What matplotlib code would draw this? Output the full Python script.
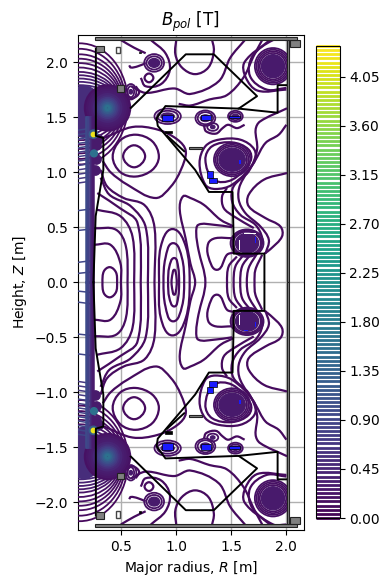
import matplotlib
matplotlib.use("Agg")
from matplotlib import pyplot as plt
from matplotlib.path import Path
from matplotlib.patches import PathPatch, Ellipse, Rectangle
import numpy as np

# contour traces, upper half only (R, Z); the plot is mirrored in Z=0
left_oval = [(.327,0),(.34,.10),(.395,.137),(.45,.09),(.46,0)]
arc_a = [(.25,.34),(.40,.34),(.49,.174),(.495,0)]
arc_b = [(.25,.49),(.45,.477),(.54,.325),(.555,0)]
arc_c = [(.27,.66),(.49,.60),(.60,.415),(.615,0)]
arc_d = [(.28,.81),(.49,.67),(.645,.54),(.675,0)]
arc_e = [(.31,.95),(.39,.795),(.585,.69),(.72,.50),(.74,0)]
arc_f = [(.31,1.02),(.37,.87),(.52,.765),(.71,.70),(.80,.50),(.80,0)]
oval_1 = [(.955,0),(.965,.08),(.98,.113),(.995,.08),(1.003,0)]
oval_2 = [(.924,0),(.935,.14),(.98,.22),(1.015,.14),(1.024,0)]
oval_3 = [(.882,0),(.90,.22),(.97,.355),(1.05,.22),(1.07,0)]
oval_4 = [(.842,0),(.858,.325),(.964,.483),(1.085,.325),(1.12,0)]
oval_5 = [(1.17,0),(1.127,.17),(1.085,.39),(1.03,.66),(1.06,.78),(1.127,.765),(1.248,.704),(1.40,.568),(1.52,.507)]
fold = [(1.506,.50),(1.34,.522),(1.20,.522),(1.18,.447),(1.20,.295),(1.263,0)]
vee = [(1.506,.40),(1.354,.40),(1.29,.355),(1.29,.234),(1.37,.113),(1.46,.25),(1.52,.27)]
inner_ring = [(.615,1.244),(.715,1.144),(.615,1.044),(.515,1.144),(.615,1.244)]
outer_ring = [(.42,1.14),(.49,1.29),(.63,1.34),(.78,1.28),(.84,1.14),(.78,1.02),(.63,.96),(.49,1.00),(.42,1.14)]
belly = [(.33,1.10),(.40,1.0),(.555,.885),(.81,.765),(.95,.87),(1.04,1.02),(1.085,1.19),(1.01,1.295),(.83,1.386),(.60,1.41),(.34,1.31)]
long_a = [(.59,1.78),(.72,1.72),(.98,1.76),(1.127,1.71),(1.385,1.826),(1.49,2.04),(1.627,2.205)]
long_b = [(1.02,1.62),(1.127,1.605),(1.30,1.66),(1.46,1.70),(1.61,1.86),(1.70,2.05),(1.78,2.20)]
top_cup = [(1.00,2.22),(.99,2.07),(1.05,1.95),(1.17,1.89),(1.29,1.95),(1.34,2.10),(1.32,2.22)]
coil_wrap = [(.767,2.20),(.90,2.08),(.94,1.93),(.86,1.80),(.72,1.78),(.676,1.856)]
coil_wrap_b = [(.494,2.20),(.615,2.13),(.72,2.08)]
coil_wrap_c = [(.57,1.97),(.585,1.95),(.645,1.96),(.72,1.99)]
small_loop = [(.75,1.896),(.79,1.856),(.75,1.816),(.71,1.856),(.75,1.896)]
tail_a = [(.63,1.78),(.66,1.72),(.60,1.67),(.555,1.69)]
tr_wrap_a = [(2.0,2.20),(1.88,2.20),(1.69,2.05),(1.67,1.87),(1.82,1.75),(2.0,1.765)]
tr_wrap_b = [(1.85,2.20),(1.62,2.0),(1.63,1.86),(1.74,1.74),(2.0,1.75)]
ring_low_a = [(1.25,1.42),(1.27,1.37),(1.36,1.35),(1.42,1.40),(1.47,1.43),(1.55,1.40),(1.62,1.43)]
s_a = [(2.0,1.43),(1.93,1.34),(1.81,1.265),(1.72,1.113),(1.58,.886),(1.566,.75),(1.627,.628),(1.763,.507),(1.84,.386),(1.81,.26)]
s_b = [(2.006,1.58),(1.76,1.46),(1.72,1.386),(1.733,1.204),(1.657,1.007),(1.52,.871),(1.506,.735),(1.58,.613),(1.718,.522),(1.78,.40),(1.763,.295)]
s_c = [(1.46,.856),(1.415,.78),(1.43,.674),(1.52,.60),(1.703,.492)]
right_s = [(2.006,.992),(1.794,.931),(1.657,.795),(1.657,.69),(1.809,.583),(1.945,.507),(1.96,.416),(1.854,.30),(1.80,.26)]
fan_a = [(1.46,0),(1.475,.144),(1.55,.234)]
fan_b = [(1.52,0),(1.536,.144),(1.61,.25)]
fan_c = [(1.58,0),(1.597,.144),(1.672,.25)]
fan_d = [(1.64,0),(1.657,.13),(1.733,.26)]
fan_e = [(1.71,0),(1.718,.113),(1.78,.25)]
cage_a = [(1.385,1.295),(1.263,1.235),(1.21,1.083),(1.263,.886),(1.354,.847),(1.506,.886),(1.703,1.083),(1.709,1.204),(1.58,1.295),(1.385,1.295)]
cage_b = [(1.263,1.113),(1.324,1.235),(1.506,1.27),(1.657,1.204),(1.672,1.098),(1.506,.931),(1.339,.931),(1.263,1.113)]

upper_traces = [left_oval, arc_a, arc_b, arc_c, arc_d, arc_e, arc_f, oval_1, oval_2, oval_3, oval_4,
                oval_5, fold, vee, inner_ring, outer_ring, belly, long_a, long_b, top_cup, coil_wrap,
                coil_wrap_b, coil_wrap_c, small_loop, tail_a, tr_wrap_a, tr_wrap_b, ring_low_a, s_a, s_b, s_c,
                right_s, fan_a, fan_b, fan_c, fan_d, fan_e, cage_a, cage_b]

# coils: centre R, centre Z, ring radii in R, ring radii in Z, solid core radii in R and Z
coil_tl = (.797, 1.992, [.09,.07], [.08,.06], .05, .04)
coil_tr = (1.878, 1.962, [.165,.15,.135,.12], [.165,.15,.135,.12], .105, .105)
coil_mid = (1.506, 1.113, [.165,.15,.135], [.15,.135,.12], .12, .105)
coil_low = (1.642, .355, [.15,.135,.125], [.125,.115,.105], .105, .09)
coil_p1 = (.92, 1.507, [.12,.095], [.07,.05], .06, .03)
coil_p2 = (1.263, 1.49, [.09,.07], [.07,.055], .045, .03)
coil_p3 = (1.536, 1.507, [.067,.05], [.05,.035], .03, .02)
coil_p4 = (1.33, 1.41, [.05], [.035], .02, .015)
coil_p5 = (.585, 1.73, [.05,.03], [.07,.05], .015, .02)
coils = [coil_tl, coil_tr, coil_mid, coil_low, coil_p1, coil_p2, coil_p3, coil_p4, coil_p5]

# the strong field at the top of the centre column
blob_r = .373
blob_z = 1.583
blob_radii = [.20,.18,.16,.14,.12,.10,.085,.07,.055,.04,.025,.012]
blob_values = [.2,.25,.3,.35,.45,.55,.7,.85,1.0,1.2,1.4,1.6]
fan_r = .12
fan_z = 1.62
fan_a_r = [.44,.42,.405,.39,.38,.37,.36,.35,.34,.33,.32]
fan_b_z = [.55,.50,.45,.41,.37,.33,.29,.26,.23,.20,.17]
fan_values = [.1,.12,.14,.16,.18,.2,.25,.3,.35,.4,.45]
fill_r = .16
fill_z = 1.55
fill_a = .17
fill_b = .24
hot_r = [.245,.25]
hot_z = [1.345,1.17]
lump_r = [.27,.27,.26,.29]
lump_z = [1.25,1.12,1.02,1.30]
stripe_r = [.18,.19,.20,.21,.22,.23,.24]
stripe_v = [1.0,.95,.85,.7,.55,.4,.3]
stripe_top = 1.5
hair_z = [.08,.18,.47,.65,.90,.94,.98,1.02,1.06,1.10,1.14,1.18,1.22,1.26,1.30,1.34,1.38]
hair_l = [.14,.12,.14,.12,.10,.10,.10,.10,.10,.10,.10,.10,.10,.10,.10,.10,.10]
hair_v = [.9,.9,.9,.9,.7,.7,.7,.7,.8,.8,.8,.8,.9,.9,.9,.9,.9]

# machine outline, upper half
wall_r = [.267,.267,.335,.335,.265,.245]
wall_z = [2.12,1.33,1.31,1.02,.60,0]
limiter_r = [.585,1.085,1.34,1.733,1.566,.90,.82,.83,1.17,1.295,1.51,1.52,1.52,1.80,1.80]
limiter_z = [1.583,2.07,2.07,1.69,1.577,1.60,1.49,1.42,1.02,.82,.82,.40,.26,.26,0]
shelf_r = [1.566,1.92,1.92,2.0]
shelf_z = [1.577,1.54,1.79,1.79]
baffle_r = [.915,1.07]
baffle_z = [1.33,1.19]
grey_boxes = [(.267,2.09,.07,.06),(2.03,2.135,.09,.065),(.26,2.20,1.84,.025),(1.115,1.21,.12,.018),(2.005,0,.016,2.20),(.46,1.73,.06,.06)]
hollow_boxes = [(.45,2.08,.04,.06)]
black_boxes = [(.895,1.355,.06,.02),(.655,2.08,.025,.015)]
blue_boxes = [(.87,1.46,.10,.06),(1.22,1.47,.09,.05),(1.48,1.49,.10,.02),(1.28,.95,.05,.06),(1.30,.90,.07,.05)]
white_marks = [(1.41,1.06,.008,.10),(1.566,.295,.008,.09),(1.61,.44,.11,.006)]
blue_marks = [(1.57,1.07,.02,.04),(1.71,.36,.015,.05),(1.61,.435,.04,.006)]

cbar_ticks = [0,.45,.9,1.35,1.8,2.25,2.7,3.15,3.6,4.05]
levels = np.linspace(0, 4.33, 115)
cmap = plt.get_cmap("viridis")

def col(v):
    return cmap(v / 4.33)

def tangent(a, b):
    d = b - a
    return d / max(np.hypot(*d), 1e-9)

def smooth(ax, pts, c, lw=1.6):
    pts = np.array(pts, dtype=float)
    closed = np.allclose(pts[0], pts[-1])
    n = len(pts)
    tans = []
    for i in range(n):
        a = pts[i - 1] if i > 0 else (pts[-2] if closed else pts[0])
        b = pts[i + 1] if i < n - 1 else (pts[1] if closed else pts[-1])
        tans.append(tangent(a, b))
    verts = [pts[0]]
    for i in range(n - 1):
        seg = np.hypot(*(pts[i + 1] - pts[i])) / 3
        verts += [pts[i] + tans[i] * seg, pts[i + 1] - tans[i + 1] * seg, pts[i + 1]]
    codes = [Path.MOVETO] + [Path.CURVE4] * (len(verts) - 1)
    ax.add_patch(PathPatch(Path(verts, codes), fc="none", ec=c, lw=lw, zorder=3))

fig = plt.figure(figsize=(3.9, 5.87), dpi=100)
ax = fig.add_axes([77.5/390, 1-530/587, 226.5/390, 495.5/587])

line_col = col(.12)
for tr in upper_traces:
    pts = list(tr)
    if tr[-1][1] == 0 and tr[0][1] == 0:
        pts = pts + [(r, -z) for r, z in reversed(tr[:-1])]
        smooth(ax, pts, line_col)
    elif tr[-1][1] == 0:
        pts = pts + [(r, -z) for r, z in reversed(tr[:-1])]
        smooth(ax, pts, line_col)
    elif tr[0][1] == 0:
        pts = [(r, -z) for r, z in reversed(tr[1:])] + pts
        smooth(ax, pts, line_col)
    else:
        smooth(ax, pts, line_col)
        smooth(ax, [(r, -z) for r, z in tr], line_col)

clip = Rectangle((0, -3), 2.005, 6, transform=ax.transData)
for sign in (1, -1):
    for a, b, v in zip(fan_a_r, fan_b_z, fan_values):
        ax.add_patch(Ellipse((fan_r, sign*fan_z), 2*a, 2*b, fc="none", ec=col(v), lw=1.3, zorder=3))
    ax.add_patch(Ellipse((fill_r, sign*fill_z), 2*fill_a, 2*fill_b, fc=col(.55), ec="none", zorder=3))
    ax.add_patch(Ellipse((blob_r, sign*blob_z), 2*blob_radii[0], 2*blob_radii[0], fc=col(.25), ec="none", zorder=3))
    for rad, v in zip(blob_radii, blob_values):
        ax.add_patch(Ellipse((blob_r, sign*blob_z), 2*rad, 2*rad, fc="none", ec=col(v), lw=2.5, zorder=3))
    for c_r, c_z, rr, zz, core_r, core_z in coils:
        for a, b in zip(rr, zz):
            e = Ellipse((c_r, sign*c_z), 2*a, 2*b, fc="none", ec=col(.2), lw=1.3, zorder=3)
            ax.add_patch(e)
            e.set_clip_path(clip)
        e = Ellipse((c_r, sign*c_z), 2*core_r, 2*core_z, fc=col(.3), ec=col(.3), lw=1, zorder=3)
        ax.add_patch(e)
        e.set_clip_path(clip)
    ax.scatter(lump_r, [sign*z for z in lump_z], s=45, color=col(.3), zorder=3)
    for z, l, v in zip(hair_z, hair_l, hair_v):
        ax.plot([.1, .1 + l], [sign*z, sign*(z+.015)], color=col(v), lw=1.1, zorder=3)
    for x, v in zip(stripe_r, stripe_v):
        ax.plot([x, x], [0, sign*stripe_top], color=col(v), lw=1.8, zorder=3)
    ax.scatter(hot_r, [sign*z for z in hot_z], s=[36, 24], color=[col(1.3), col(1.6)], zorder=4)
    ax.scatter(hot_r[:1], [sign*hot_z[0]], s=10, color=[col(4.2)], zorder=5)
    ax.plot(wall_r, [sign*z for z in wall_z], color="k", lw=1.4, zorder=5)
    ax.plot(limiter_r, [sign*z for z in limiter_z], color="k", lw=1.4, zorder=5)
    ax.plot(shelf_r, [sign*z for z in shelf_z], color="k", lw=1.4, zorder=5)
    ax.plot(baffle_r, [sign*z for z in baffle_z], color="k", lw=1.4, zorder=5)
    for x, y, w, h in grey_boxes:
        ax.add_patch(Rectangle((x, y if sign > 0 else -y-h), w, h, fc="#808080", ec="#222222", lw=.8, zorder=6))
    for x, y, w, h in hollow_boxes:
        ax.add_patch(Rectangle((x, y if sign > 0 else -y-h), w, h, fc="white", ec="#444444", lw=1, zorder=6))
    for x, y, w, h in black_boxes:
        ax.add_patch(Rectangle((x, y if sign > 0 else -y-h), w, h, fc="k", ec="k", lw=.5, zorder=6))
    for x, y, w, h in blue_boxes:
        ax.add_patch(Rectangle((x, y if sign > 0 else -y-h), w, h, fc="#1a1aff", ec="k", lw=.5, zorder=6))
    for x, y, w, h in white_marks:
        ax.add_patch(Rectangle((x, y if sign > 0 else -y-h), w, h, fc="white", ec="none", zorder=6))
    for x, y, w, h in blue_marks:
        ax.add_patch(Rectangle((x, y if sign > 0 else -y-h), w, h, fc="#1a1aff", ec="none", zorder=6))

# off-screen contour, only there to give the colourbar its level lines
cs = ax.contour([5, 6], [5, 6], np.array([[0, 0], [4.33, 4.33]]), levels=levels, cmap=cmap, linewidths=2)

ax.set_xlim(.1, 2.16)
ax.set_ylim(-2.25, 2.25)
ax.set_xticks([.5, 1, 1.5, 2])
ax.set_yticks([-2, -1.5, -1, -.5, 0, .5, 1, 1.5, 2])
ax.grid(True, color="#b0b0b0", lw=1)
ax.set_axisbelow(True)
ax.set_xlabel("Major radius, $R$ [m]", labelpad=4)
ax.set_ylabel("Height, $Z$ [m]", labelpad=4)
ax.set_title("$B_{pol}$ [T]")

cax = fig.add_axes([316/390, 1-518/587, 23.5/390, 472/587])
cb = fig.colorbar(cs, cax=cax)
cb.set_ticks(cbar_ticks)
cb.set_ticklabels(["%.2f" % t for t in cbar_ticks])

plt.savefig("out.png", dpi=100)
